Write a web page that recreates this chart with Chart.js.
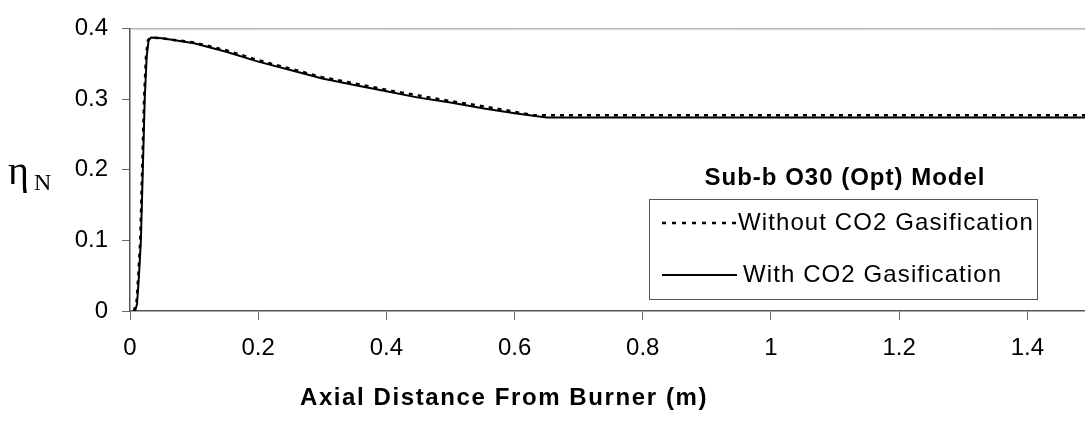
<!DOCTYPE html>
<html>
<head>
<meta charset="utf-8">
<script src="https://cdn.jsdelivr.net/npm/chart.js@4/dist/chart.umd.min.js"></script>
<style>
  html, body { margin: 0; padding: 0; background: #fff; }
  #wrap { position: relative; width: 1085px; height: 431px; }
</style>
</head>
<body>
<div id="wrap"><canvas id="chart"></canvas></div>
<script>
// tick values
const xTicks = [0, 0.2, 0.4, 0.6, 0.8, 1, 1.2, 1.4];
const yTicks = [0, 0.1, 0.2, 0.3, 0.4];

// Without CO2 gasification (dotted)
const withoutX = [0.006, 0.010, 0.013, 0.016, 0.019, 0.022, 0.025, 0.028, 0.032, 0.05, 0.1, 0.15, 0.2, 0.25, 0.3, 0.35, 0.4, 0.45, 0.5, 0.55, 0.6, 0.63, 0.8, 1.0, 1.2, 1.49];
const withoutY = [0, 0.01, 0.05, 0.1, 0.2, 0.3, 0.36, 0.383, 0.387, 0.386, 0.380, 0.369, 0.355, 0.343, 0.331, 0.322, 0.313, 0.305, 0.297, 0.290, 0.282, 0.277, 0.277, 0.277, 0.277, 0.277];

// With CO2 gasification (solid)
const withX = [0.008, 0.011, 0.014, 0.017, 0.020, 0.023, 0.026, 0.029, 0.033, 0.05, 0.1, 0.15, 0.2, 0.25, 0.3, 0.35, 0.4, 0.45, 0.5, 0.55, 0.6, 0.65, 0.8, 1.0, 1.2, 1.49];
const withY = [0, 0.01, 0.05, 0.1, 0.2, 0.3, 0.36, 0.383, 0.387, 0.386, 0.379, 0.367, 0.353, 0.341, 0.329, 0.320, 0.311, 0.302, 0.295, 0.287, 0.280, 0.274, 0.274, 0.274, 0.274, 0.274];

const seriesNames = ['Without CO2 Gasification', 'With CO2 Gasification'];
const legendTitle = 'Sub-b O30 (Opt) Model';
const xTitle = 'Axial Distance From Burner (m)';

const toPoints = (xs, ys) => xs.map((x, i) => ({ x: x, y: ys[i] }));
const fmt = (v) => String(+Number(v).toFixed(1));

// frame line, axis titles and the boxed legend
const overlay = {
  id: 'overlay',
  afterDraw(chart) {
    const { ctx, chartArea: a } = chart;
    ctx.save();
    ctx.strokeStyle = '#8c8c8c';
    ctx.lineWidth = 1;
    ctx.beginPath();
    ctx.moveTo(a.left, a.top + 0.5);
    ctx.lineTo(a.right, a.top + 0.5);
    ctx.stroke();

    ctx.fillStyle = '#000';
    ctx.textBaseline = 'alphabetic';
    ctx.textAlign = 'left';
    ctx.font = '40px "Liberation Serif"';
    ctx.fillText('\u03B7', 8, 184);
    ctx.font = '24px "Liberation Serif"';
    ctx.fillText('N', 34, 190);

    ctx.font = 'bold 24px "Liberation Sans"';
    ctx.letterSpacing = '1.6px';
    ctx.textAlign = 'center';
    ctx.fillText(xTitle, 504, 405);

    // legend
    ctx.letterSpacing = '1px';
    ctx.fillText(legendTitle, 845, 185);
    ctx.strokeStyle = '#555';
    ctx.lineWidth = 1;
    ctx.strokeRect(649.5, 199.5, 388, 100);

    ctx.strokeStyle = '#000';
    ctx.lineWidth = 2.5;
    ctx.setLineDash([4, 6]);
    ctx.beginPath();
    ctx.moveTo(662, 223);
    ctx.lineTo(736, 223);
    ctx.stroke();
    ctx.setLineDash([]);
    ctx.lineWidth = 2;
    ctx.beginPath();
    ctx.moveTo(662, 275);
    ctx.lineTo(737, 275);
    ctx.stroke();

    ctx.font = '24px "Liberation Sans"';
    ctx.letterSpacing = '1.1px';
    ctx.textAlign = 'left';
    ctx.fillText(seriesNames[0], 738, 230);
    ctx.fillText(seriesNames[1], 743, 282);
    ctx.restore();
  }
};

new Chart(document.getElementById('chart'), {
  type: 'scatter',
  data: {
    datasets: [{
      label: seriesNames[0],
      data: toPoints(withoutX, withoutY),
      showLine: true,
      borderColor: '#000',
      borderWidth: 2.5,
      borderDash: [4, 5],
      pointRadius: 0,
      tension: 0
    }, {
      label: seriesNames[1],
      data: toPoints(withX, withY),
      showLine: true,
      borderColor: '#000',
      borderWidth: 2,
      pointRadius: 0,
      tension: 0
    }]
  },
  options: {
    responsive: true,
    maintainAspectRatio: false,
    animation: false,
    layout: { padding: { top: 21, right: 0, left: 0, bottom: 0 } },
    plugins: { legend: { display: false }, tooltip: { enabled: false } },
    scales: {
      x: {
        type: 'linear',
        min: 0,
        max: 1.49,
        afterBuildTicks: (s) => { s.ticks = xTicks.map(v => ({ value: v })); },
        afterFit: (s) => { s.height = 120; },
        grid: { drawOnChartArea: false, tickLength: 9, color: '#666', tickColor: '#666' },
        border: { color: '#555', width: 1.5 },
        ticks: { color: '#000', padding: 14, maxRotation: 0, callback: fmt, font: { family: 'Liberation Sans', size: 24 } }
      },
      y: {
        type: 'linear',
        min: 0,
        max: 0.4,
        afterBuildTicks: (s) => { s.ticks = yTicks.map(v => ({ value: v })); },
        afterFit: (s) => { s.width = 130; },
        grid: { drawOnChartArea: false, tickLength: 8, color: '#666', tickColor: '#666' },
        border: { color: '#555', width: 1.5 },
        ticks: { color: '#000', padding: 14, callback: fmt, font: { family: 'Liberation Sans', size: 24 } }
      }
    }
  },
  plugins: [overlay]
});
</script>
</body>
</html>
